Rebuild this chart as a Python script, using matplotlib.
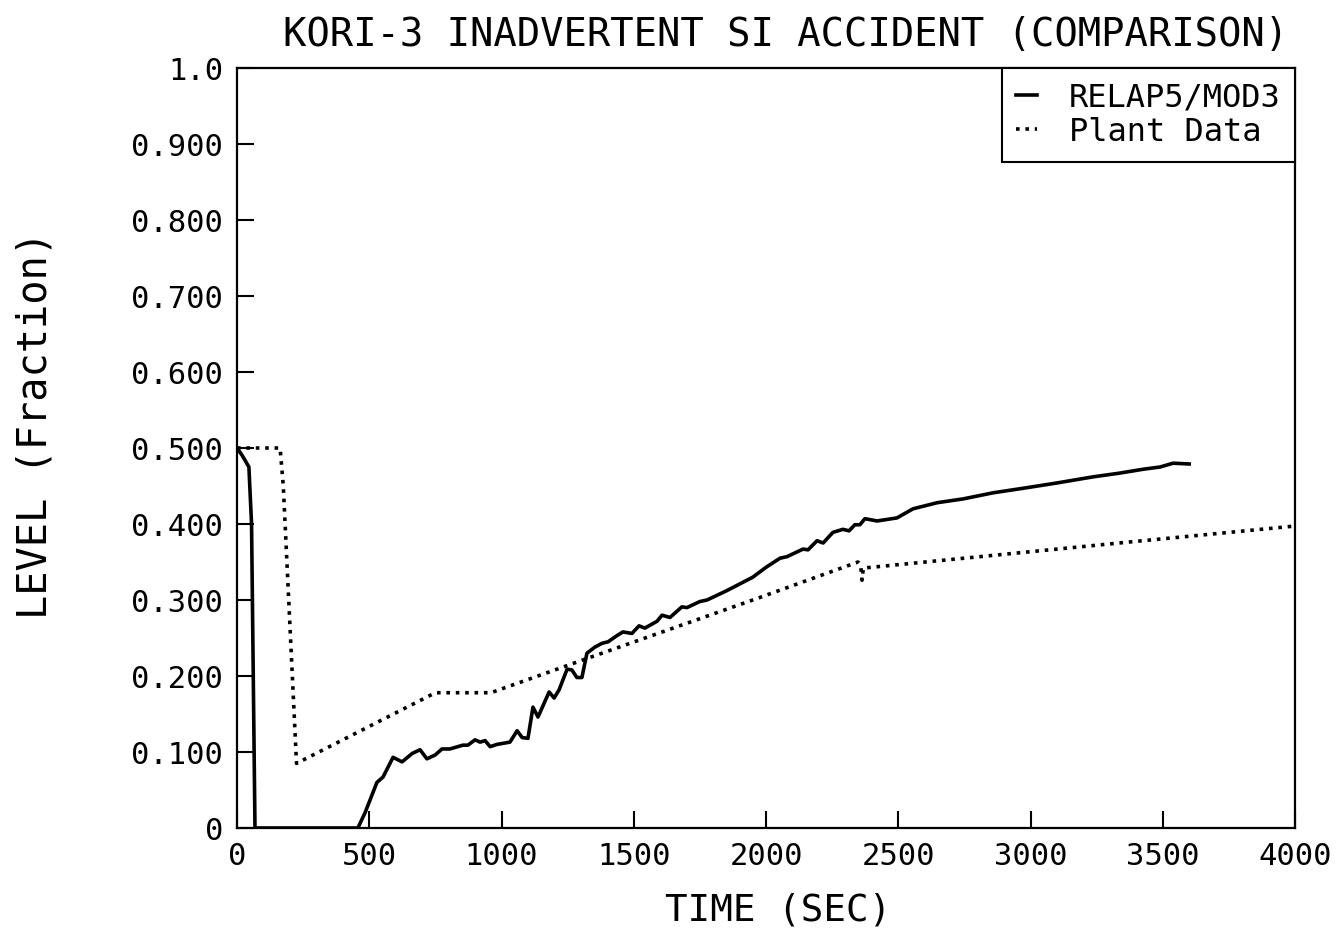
import numpy as np
import matplotlib
matplotlib.use('Agg')
import matplotlib.pyplot as plt

FONT = 'DejaVu Sans Mono'

# RELAP5/MOD3 calculation (solid)
relap_t = [0, 20, 45, 55, 68, 300, 457, 484, 529, 552, 590, 624, 662, 692, 718,
           749, 775, 805, 854, 873, 900, 919, 938, 957, 983, 1032, 1059, 1078,
           1100, 1119, 1138, 1180, 1199, 1218, 1248, 1266, 1285, 1304, 1323,
           1353, 1380, 1403, 1436, 1459, 1493, 1520, 1542, 1588, 1607, 1637,
           1682, 1701, 1750, 1777, 1850, 1950, 2000, 2053, 2079, 2140, 2159,
           2193, 2216, 2253, 2291, 2314, 2336, 2355, 2374, 2420, 2495, 2556,
           2647, 2745, 2858, 2972, 3100, 3236, 3338, 3425, 3490, 3539, 3600]
relap_lvl = [0.500, 0.490, 0.475, 0.400, 0.0, 0.0, 0.0, 0.020, 0.060, 0.067,
             0.093, 0.087, 0.098, 0.103, 0.091, 0.096, 0.104, 0.104, 0.109,
             0.109, 0.116, 0.113, 0.115, 0.107, 0.110, 0.113, 0.128, 0.119,
             0.118, 0.159, 0.146, 0.179, 0.171, 0.182, 0.209, 0.208, 0.198,
             0.198, 0.230, 0.238, 0.243, 0.245, 0.253, 0.258, 0.256, 0.266,
             0.263, 0.272, 0.280, 0.277, 0.291, 0.290, 0.298, 0.300, 0.312,
             0.330, 0.343, 0.355, 0.357, 0.367, 0.366, 0.378, 0.375, 0.389,
             0.393, 0.391, 0.399, 0.399, 0.407, 0.404, 0.408, 0.420, 0.428,
             0.433, 0.441, 0.447, 0.454, 0.462, 0.467, 0.472, 0.475, 0.480,
             0.479]

# plant data (dotted)
plant_t = [0, 163, 175, 225, 750, 960, 1323, 1950, 2348, 2358, 2363, 2368,
           3365, 3990]
plant_lvl = [0.500, 0.500, 0.450, 0.085, 0.178, 0.178, 0.223, 0.300, 0.350,
             0.345, 0.326, 0.342, 0.376, 0.397]

x_ticks = [0, 500, 1000, 1500, 2000, 2500, 3000, 3500, 4000]
y_ticks = [0, 0.1, 0.2, 0.3, 0.4, 0.5, 0.6, 0.7, 0.8, 0.9, 1.0]
y_labels = ['0', '0.100', '0.200', '0.300', '0.400', '0.500', '0.600',
            '0.700', '0.800', '0.900', '1.0']

fig = plt.figure(figsize=(13.43, 9.51), dpi=100)
ax = fig.add_axes([237 / 1343, 1 - 828 / 951, (1295 - 237) / 1343, (828 - 68) / 951])

ax.plot(relap_t, relap_lvl, '-', color='black', lw=2.6, label='RELAP5/MOD3')
ax.plot(plant_t, plant_lvl, color='black', lw=2.6, linestyle=(0, (1, 1.6)),
        label='Plant Data')

ax.set_xlim(0, 4000)
ax.set_ylim(0, 1.0)
ax.set_xticks(x_ticks)
ax.set_xticklabels([str(v) for v in x_ticks], fontfamily=FONT, fontsize=22)
ax.set_yticks(y_ticks)
ax.set_yticklabels(y_labels, fontfamily=FONT, fontsize=22)
ax.tick_params(direction='in', length=12, width=1.5, pad=10, top=False, right=False)
for s in ax.spines.values():
    s.set_linewidth(1.6)

leg = ax.legend(loc='upper right', borderaxespad=0, fancybox=False,
                edgecolor='black', framealpha=1, handlelength=0.65,
                handletextpad=1.0, borderpad=0.45, labelspacing=0.1,
                prop={'family': FONT, 'size': 23})
leg.get_frame().set_linewidth(1.5)

fig.text(786 / 1343, 1 - 35 / 951, 'KORI-3 INADVERTENT SI ACCIDENT (COMPARISON)',
         ha='center', va='center', fontfamily=FONT, fontsize=28)
fig.text(778 / 1343, 1 - 910 / 951, 'TIME (SEC)', ha='center', va='center',
         fontfamily=FONT, fontsize=27)
fig.text(36 / 1343, 1 - 425 / 951, 'LEVEL (Fraction)', ha='center', va='center',
         rotation=90, fontfamily=FONT, fontsize=29)

fig.savefig('out.png', dpi=100)
